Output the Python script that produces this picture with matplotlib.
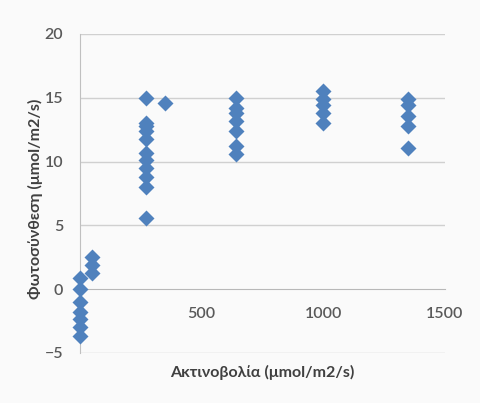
import numpy as np
import matplotlib.pyplot as plt

plt.rcParams['font.family'] = ['Lato', 'DejaVu Sans']

# Μετρήσεις: ακτινοβολία και φωτοσύνθεση
irr_0 = [0] * 7
ps_0 = [0.9, 0.0, -1.0, -1.8, -2.3, -3.0, -3.7]

irr_50 = [50] * 3
ps_50 = [2.5, 1.9, 1.3]

irr_270 = [270] * 11
ps_270 = [15.0, 13.0, 12.4, 11.8, 10.7, 10.1, 9.5, 8.8, 8.0, 5.6, 12.8]

irr_350 = [350]
ps_350 = [14.6]

irr_640 = [640] * 7
ps_640 = [15.0, 14.2, 13.8, 13.2, 12.4, 11.2, 10.6]

irr_1000 = [1000] * 5
ps_1000 = [15.5, 14.9, 14.4, 13.8, 13.0]

irr_1350 = [1350] * 5
ps_1350 = [14.9, 14.4, 13.6, 12.8, 11.1]

x = np.array(irr_0 + irr_50 + irr_270 + irr_350 + irr_640 + irr_1000 + irr_1350)
y = np.array(ps_0 + ps_50 + ps_270 + ps_350 + ps_640 + ps_1000 + ps_1350)

fig = plt.figure(figsize=(4.81, 4.03), dpi=100)
fig.patch.set_facecolor('#fafafa')
ax = fig.add_axes([80 / 481, 50 / 403, 365 / 481, 319 / 403])
ax.set_facecolor('#fafafa')

# οριζόντιες γραμμές πλέγματος
for g in [-5, 5, 10, 15, 20]:
    ax.axhline(g, color='#d0d0d0', lw=1, zorder=1)

ax.plot(x, y, 'D', color='#4f81bd', ms=8, mec='none', zorder=3, clip_on=False)

ax.set_xlim(0, 1500)
ax.set_ylim(-5, 20)
ax.set_xticks([500, 1000, 1500])
ax.set_yticks([-5, 0, 5, 10, 15, 20])

for s in ['top', 'right']:
    ax.spines[s].set_visible(False)
ax.spines['bottom'].set_position(('data', 0))
ax.spines['bottom'].set_color('#b8b8b8')
ax.spines['left'].set_color('#c0c0c0')

ax.tick_params(axis='x', length=0, pad=13, labelsize=11.5, labelcolor='#595959')
ax.tick_params(axis='y', length=0, pad=12, labelsize=11.5, labelcolor='#595959')
for lbl in ax.get_xticklabels() + ax.get_yticklabels():
    lbl.set_fontweight('semibold')

ax.set_ylabel('Φωτοσύνθεση (μmol/m2/s)', fontsize=11.5, fontweight='bold',
              color='#404040', va='center')
ax.yaxis.set_label_coords(-0.123, 0.483)
ax.set_xlabel('Ακτινοβολία (μmol/m2/s)', fontsize=11.5, fontweight='bold',
              color='#404040', va='center')
ax.xaxis.set_label_coords(0.5, -0.06)

fig.savefig('out.png', dpi=100, facecolor=fig.get_facecolor())
